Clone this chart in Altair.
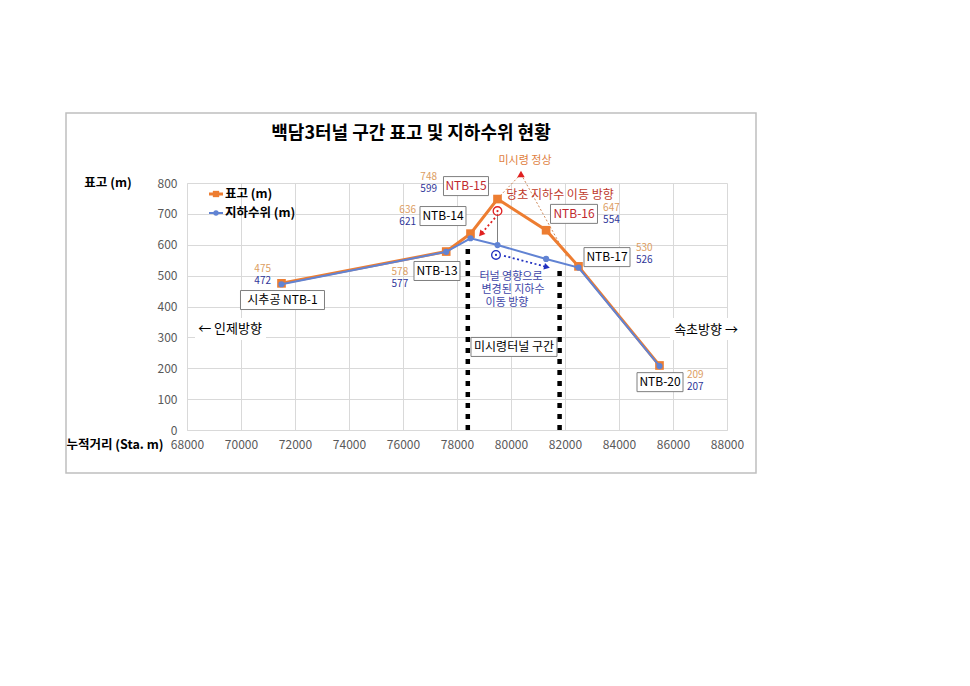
import altair as alt
import pandas as pd

# ---------------- data ----------------
stations = ["NTB-1", "NTB-13", "NTB-14", "NTB-15", "NTB-16", "NTB-17", "NTB-20"]
distance = [71500, 77600, 78500, 79500, 81300, 82500, 85500]
elevation = [475, 578, 636, 748, 647, 530, 209]
groundwater = [472, 577, 621, 599, 554, 526, 207]
x_ticks = list(range(68000, 88001, 2000))
y_ticks = list(range(0, 801, 100))

tunnel_bounds = [78400, 81800]
tunnel_tops = [600, 530]

# label boxes: text, center x (m), center y (m), width px, colour
box_text = ["시추공 NTB-1", "NTB-13", "NTB-14", "NTB-15", "NTB-16", "NTB-17", "NTB-20", "미시령터널 구간"]
box_cx = [71537, 77259, 77481, 78333, 82333, 83556, 85519, 80111]
box_cy = [421, 515, 693, 790, 700, 560, 155, 269]
box_w = [84, 46, 46, 45, 47, 46, 46, 86]
box_col = ["black", "black", "black", "#C0282D", "#C0282D", "black", "black", "black"]

# value label offsets (px) relative to the elevation point
label_dx = [-10.5, -38, -54.5, -60.5, 57, 57.5, 27.5]
label_dy = [-14.5, 20, -24, -22.5, -22.5, -18.5, 10]

# ---------------- layout ----------------
W, H = 540, 247
X0, X1 = 68000, 88000
Y0, Y1 = 0, 800
PXM = W / (X1 - X0)
PXU = H / (Y1 - Y0)
LEFT, TOP = 187, 183

FONT = "Noto Sans CJK KR"
ORANGE = "#ED7D31"
BLUE = "#6183D3"
LBL_OR = "#DC9D62"
LBL_BL = "#2F3699"
RED = "#E02020"

xs = alt.Scale(domain=[X0, X1], nice=False, zero=False)
ys = alt.Scale(domain=[Y0, Y1], nice=False)
x_axis = alt.Axis(values=x_ticks, format="d", title=None, grid=True, ticks=False,
                  labelPadding=9, labelFontSize=12, labelColor="#595959", labelFont=FONT,
                  labelFlush=False, labelOverlap=False, labelBound=False,
                  domainColor="#D9D9D9", gridColor="#D9D9D9")
y_axis = alt.Axis(values=y_ticks, format="d", title=None, grid=True, ticks=False,
                  labelPadding=10, labelFontSize=12, labelColor="#595959", labelFont=FONT,
                  labelFlush=False, labelOverlap=False, labelBound=False,
                  domainColor="#D9D9D9", gridColor="#D9D9D9")


def X(f):
    return alt.X(f, type="quantitative", scale=xs, axis=x_axis)


def Y(f):
    return alt.Y(f, type="quantitative", scale=ys, axis=y_axis)


one = pd.DataFrame({"a": [0]})


def px(v):
    return alt.value(v - LEFT)


def py(v):
    return alt.value(v - TOP)


df = pd.DataFrame({"d": distance, "e": elevation, "g": groundwater, "s": stations})

layers = []

# outer frame
layers.append(alt.Chart(one).mark_rect(fillOpacity=0, stroke="#BFBFBF", strokeWidth=1.5).encode(
    x=px(66), x2=px(756), y=py(113), y2=py(473)))

# tunnel section dotted boundaries
tun = pd.DataFrame({"x": tunnel_bounds, "y0": [0, 0], "y1": tunnel_tops})
layers.append(alt.Chart(tun).mark_rule(color="black", strokeWidth=4.5, strokeDash=[5, 6]).encode(
    x=X("x"), y=Y("y0"), y2="y1"))

# guide dotted lines from summit triangle
guides = pd.DataFrame({"x": [80370, 80370], "y": [829, 829], "x2": [79593, 82074], "y2": [758, 560]})
layers.append(alt.Chart(guides).mark_rule(color="#D08A5A", strokeWidth=1, strokeDash=[2, 2]).encode(
    x=X("x"), y=Y("y"), x2="x2", y2="y2"))

# thin grey drop line at NTB-15
drop = pd.DataFrame({"x": [79500], "y": [700], "y2": [599]})
layers.append(alt.Chart(drop).mark_rule(color="#808080", strokeWidth=1).encode(
    x=X("x"), y=Y("y"), y2="y2"))

# series
layers.append(alt.Chart(df).mark_line(color=ORANGE, strokeWidth=3).encode(x=X("d"), y=Y("e")))
layers.append(alt.Chart(df).mark_point(shape="square", filled=True, color=ORANGE, size=75, opacity=1).encode(
    x=X("d"), y=Y("e")))
layers.append(alt.Chart(df).mark_line(color=BLUE, strokeWidth=2).encode(x=X("d"), y=Y("g")))
layers.append(alt.Chart(df).mark_point(shape="circle", filled=True, color=BLUE, size=38, opacity=1).encode(
    x=X("d"), y=Y("g")))

# value labels
lab = df.copy()
lab["lx"] = [d + dx / PXM for d, dx in zip(distance, label_dx)]
lab["ly_e"] = [e - dy / PXU for e, dy in zip(elevation, label_dy)]
lab["ly_g"] = lab["ly_e"] - 12 / PXU
lab["side"] = ["right"] * 4 + ["left"] * 3
for side in ["right", "left"]:
    sub = lab[lab["side"] == side]
    layers.append(alt.Chart(sub).mark_text(align=side, baseline="middle", font=FONT, fontSize=10,
                                           color=LBL_OR).encode(x=X("lx"), y=Y("ly_e"), text="e:Q"))
    layers.append(alt.Chart(sub).mark_text(align=side, baseline="middle", font=FONT, fontSize=10,
                                           color=LBL_BL).encode(x=X("lx"), y=Y("ly_g"), text="g:Q"))

# label boxes
BH = 19
boxes = pd.DataFrame({"t": box_text, "cx": box_cx, "cy": box_cy, "w": box_w, "c": box_col})
boxes["x1"] = boxes["cx"] - boxes["w"] / 2 / PXM
boxes["x2"] = boxes["cx"] + boxes["w"] / 2 / PXM
boxes["y1"] = boxes["cy"] - BH / 2 / PXU
boxes["y2"] = boxes["cy"] + BH / 2 / PXU
layers.append(alt.Chart(boxes).mark_rect(fill="white", stroke="#7F7F7F", strokeWidth=1).encode(
    x=X("x1"), x2="x2", y=Y("y1"), y2="y2"))
layers.append(alt.Chart(boxes).mark_text(font=FONT, fontSize=12, baseline="middle").encode(
    x=X("cx"), y=Y("cy"), text="t:N", color=alt.Color("c:N", scale=None)))

# direction texts with white background
layers.append(alt.Chart(one).mark_rect(fill="white").encode(x=px(195), x2=px(266), y=py(318), y2=py(340)))
layers.append(alt.Chart(one).mark_rect(fill="white").encode(x=px(670), x2=px(741), y=py(318), y2=py(340)))
layers.append(alt.Chart(one).mark_text(font=FONT, fontSize=13, text="← 인제방향").encode(x=px(230), y=py(329)))
layers.append(alt.Chart(one).mark_text(font=FONT, fontSize=13, text="속초방향 →").encode(x=px(706), y=py(330)))

# summit marker and notes
summit = pd.DataFrame({"x": [80370], "y": [829]})
layers.append(alt.Chart(summit).mark_point(shape="triangle-up", filled=True, color=RED, size=55, opacity=1).encode(
    x=X("x"), y=Y("y")))
notes = pd.DataFrame({
    "t": ["미시령 정상", "당초 지하수 이동 방향", "터널 영향으로", "변경된 지하수", "이동 방향"],
    "x": [80519, 81815, 80000, 80074, 79852],
    "y": [871, 761, 494, 453, 411],
    "c": ["#E08040", "#C0392B", "#4046A8", "#4046A8", "#4046A8"],
    "s": [11, 12, 11, 11, 11],
})
layers.append(alt.Chart(notes).mark_text(font=FONT, baseline="middle").encode(
    x=X("x"), y=Y("y"), text="t:N", color=alt.Color("c:N", scale=None), size=alt.Size("s:Q", scale=None)))

# circled dots
circ = pd.DataFrame({"x": [79500, 79444], "y": [709, 567], "c": [RED, "#2030C0"]})
layers.append(alt.Chart(circ).mark_point(shape="circle", filled=False, size=75, strokeWidth=1.3, opacity=1).encode(
    x=X("x"), y=Y("y"), color=alt.Color("c:N", scale=None)))
layers.append(alt.Chart(circ).mark_point(shape="circle", filled=True, size=5, opacity=1).encode(
    x=X("x"), y=Y("y"), color=alt.Color("c:N", scale=None)))

# dotted arrows
arrows = pd.DataFrame({"x": [79407, 79741], "y": [687, 564], "x2": [78889, 81333], "y2": [635, 528],
                       "c": [RED, "#2030C0"], "ang": [221, 104]})
layers.append(alt.Chart(arrows).mark_rule(strokeWidth=1.8, strokeDash=[2, 2.5]).encode(
    x=X("x"), y=Y("y"), x2="x2", y2="y2", color=alt.Color("c:N", scale=None)))
layers.append(alt.Chart(arrows).mark_point(shape="triangle-up", filled=True, size=45, opacity=1).encode(
    x=X("x2"), y=Y("y2"), color=alt.Color("c:N", scale=None), angle=alt.Angle("ang:Q", scale=None)))

# legend
layers.append(alt.Chart(one).mark_rule(color=ORANGE, strokeWidth=3).encode(x=px(209), x2=px(223), y=py(194)))
layers.append(alt.Chart(one).mark_point(shape="square", filled=True, color=ORANGE, size=40, opacity=1).encode(
    x=px(216), y=py(194)))
layers.append(alt.Chart(one).mark_text(font=FONT, fontSize=12.5, fontWeight="bold", align="left",
                                       text="표고 (m)").encode(x=px(225), y=py(194)))
layers.append(alt.Chart(one).mark_rule(color=BLUE, strokeWidth=2).encode(x=px(209), x2=px(223), y=py(213)))
layers.append(alt.Chart(one).mark_point(shape="circle", filled=True, color=BLUE, size=28, opacity=1).encode(
    x=px(216), y=py(213)))
layers.append(alt.Chart(one).mark_text(font=FONT, fontSize=12.5, fontWeight="bold", align="left",
                                       text="지하수위 (m)").encode(x=px(225), y=py(213)))

# titles
layers.append(alt.Chart(one).mark_text(font=FONT, fontSize=18, fontWeight="bold",
                                       text="백담3터널 구간 표고 및 지하수위 현황").encode(x=px(411), y=py(134)))
layers.append(alt.Chart(one).mark_text(font=FONT, fontSize=12.5, fontWeight="bold",
                                       text="표고 (m)").encode(x=px(108), y=py(183)))
layers.append(alt.Chart(one).mark_text(font=FONT, fontSize=12.5, fontWeight="bold",
                                       text="누적거리 (Sta. m)").encode(x=px(115), y=py(445)))

chart = alt.layer(*layers).properties(
    width=W, height=H,
    autosize=alt.AutoSizeParams(type="none"),
    padding={"left": LEFT, "top": TOP, "right": 970 - LEFT - W, "bottom": 686 - TOP - H},
    background="white",
).configure_view(stroke=None)

chart.save("out.html", embed_options={"renderer": "svg", "actions": False})
